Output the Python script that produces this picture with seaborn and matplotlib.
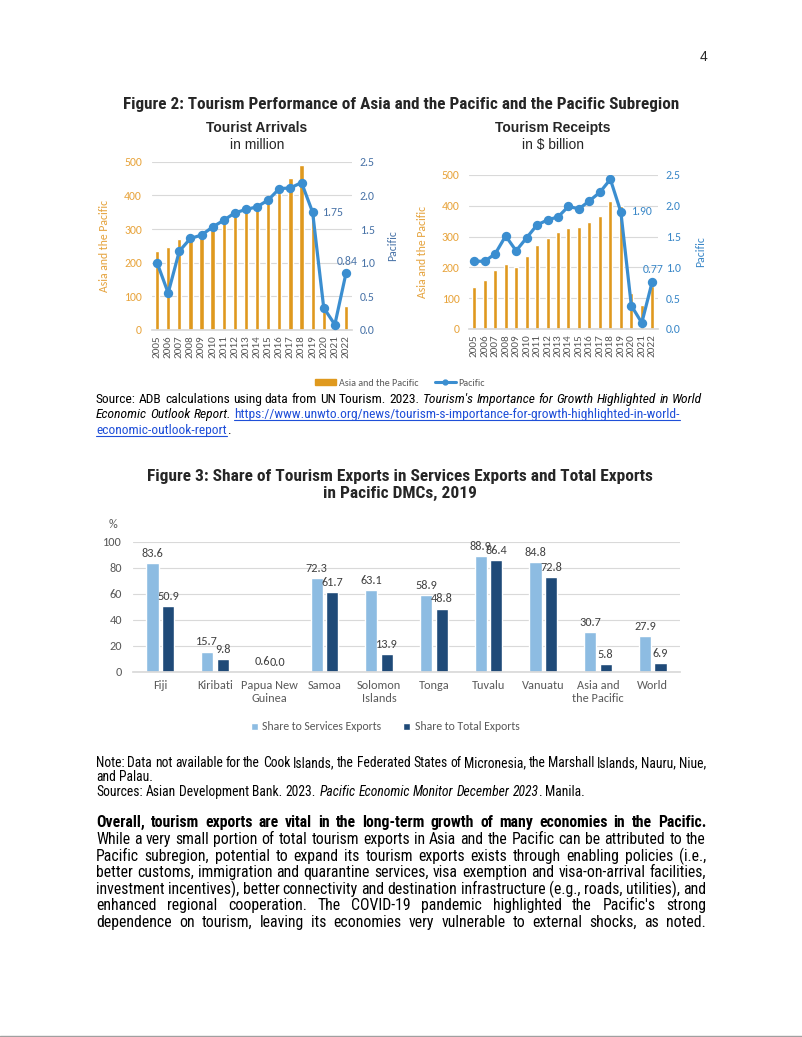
import matplotlib
matplotlib.use('Agg')
import numpy as np
import pandas as pd
import matplotlib.pyplot as plt
import seaborn as sns
from matplotlib import font_manager as fm
from matplotlib.lines import Line2D
from matplotlib.patches import Patch

# ---- data ----
years = [str(y) for y in range(2005, 2023)]
arrivals_asia_pacific = [235, 248, 270, 268, 275, 298, 318, 338, 350, 360, 380, 408, 452, 490, 360, 60, 20, 70]
arrivals_pacific = [1.00, 0.55, 1.17, 1.36, 1.41, 1.53, 1.63, 1.74, 1.79, 1.83, 1.93, 2.10, 2.11, 2.19, 1.75, 0.33, 0.08, 0.84]
receipts_asia_pacific = [137, 160, 190, 210, 200, 236, 272, 296, 316, 327, 330, 348, 367, 416, 400, 117, 77, 138]
receipts_pacific = [1.10, 1.10, 1.22, 1.51, 1.27, 1.48, 1.69, 1.77, 1.82, 1.99, 1.95, 2.08, 2.22, 2.43, 1.90, 0.38, 0.10, 0.77]
labelled_points = {'2019': 'right', '2022': 'above'}

economies = ['Fiji', 'Kiribati', 'Papua New\nGuinea', 'Samoa', 'Solomon\nIslands', 'Tonga',
             'Tuvalu', 'Vanuatu', 'Asia and\nthe Pacific', 'World']
services_share = [83.6, 15.7, 0.6, 72.3, 63.1, 58.9, 88.9, 84.8, 30.7, 27.9]
total_share = [50.9, 9.8, 0.0, 61.7, 13.9, 48.8, 86.4, 72.8, 5.8, 6.9]
series_names = ['Share to Services Exports', 'Share to Total Exports']

ORANGE = '#DF991E'
BLUE = '#3B8ED0'
GRID = '#D9D9D9'
GREY = '#595959'
LIGHT = '#8DBCE2'
NAVY = '#1F4A78'
LINKC = '#1F4FD8'

W, H = 802, 1037

names = {f.name for f in fm.fontManager.ttflist}


def pick(cands):
    for c in cands:
        if c in names:
            return c
    return cands[-1]


DOC = pick(['Liberation Sans Narrow', 'Arial Narrow', 'Roboto Condensed', 'Archivo Narrow', 'Liberation Sans'])
CHART = pick(['Carlito', 'Lato'])
ARIAL = pick(['Arimo', 'Liberation Sans'])

sns.set_theme(style='white')
plt.rcParams['font.family'] = [CHART, 'DejaVu Sans']

fig = plt.figure(figsize=(W / 100, H / 100), dpi=100)
fig.patch.set_facecolor('white')


def fx(x):
    return x / W


def fy(y):
    return 1 - y / H


def rect(l, t, r, b):
    return [l / W, 1 - b / H, (r - l) / W, (b - t) / H]


# ---- document text helpers ----
renderer = fig.canvas.get_renderer()


def measure(s, size, family, **kw):
    t = fig.text(0, 0, s, fontsize=size, family=family, **kw)
    w = t.get_window_extent(renderer).width
    t.remove()
    return w


def words_of(segs):
    words = [[]]
    for txt, kw in segs:
        parts = txt.split(' ')
        for i, p in enumerate(parts):
            if i > 0:
                words.append([])
            if p:
                words[-1].append((p, kw))
    return [w for w in words if w]


def natural_width(segs, size, family):
    words = words_of(segs)
    sp = measure('a a', size, family) - measure('aa', size, family)
    tot = sum(measure(p, size, family, **{k: v for k, v in kw.items() if k != 'link'})
              for w in words for p, kw in w)
    return tot + sp * (len(words) - 1)


def draw_line(segs, x0, y, size, family, width=None):
    words = words_of(segs)
    sp = measure('a a', size, family) - measure('aa', size, family)
    widths = [[measure(p, size, family, **{k: v for k, v in kw.items() if k != 'link'})
               for p, kw in w] for w in words]
    total = sum(sum(w) for w in widths)
    gap = sp if width is None or len(words) < 2 else (width - total) / (len(words) - 1)
    base = y + 0.3 * size * 100 / 72
    x = x0
    for w, ws in zip(words, widths):
        for (p, kw), pw in zip(w, ws):
            kw = dict(kw)
            link = kw.pop('link', False)
            fig.text(fx(x), fy(base), p, fontsize=size, family=family, va='baseline', ha='left',
                     color=kw.pop('color', 'black'), **kw)
            if link:
                fig.add_artist(Line2D([fx(x), fx(x + pw)], [fy(base + 1.5)] * 2,
                                      transform=fig.transFigure, color=LINKC, lw=0.8))
            x += pw
        x += gap


REG = {}
IT = {'style': 'italic'}
BOLD = {'weight': 'bold'}
LNK = {'color': LINKC, 'link': True}

# page number
fig.text(fx(703), fy(57), '4', fontsize=10, family=ARIAL, ha='center', va='center')

# figure titles, fitted to the page widths
t2 = 'Figure 2: Tourism Performance of Asia and the Pacific and the Pacific Subregion'
s2 = 11 * 552 / measure(t2, 11, DOC, weight='bold')
fig.text(fx(401), fy(104), t2, fontsize=s2, family=DOC, weight='bold', ha='center', va='center')
t3a = 'Figure 3: Share of Tourism Exports in Services Exports and Total Exports'
t3b = 'in Pacific DMCs, 2019'
s3 = 11 * 503 / measure(t3a, 11, DOC, weight='bold')
fig.text(fx(400), fy(476), t3a, fontsize=s3, family=DOC, weight='bold', ha='center', va='center')
fig.text(fx(400), fy(493), t3b, fontsize=s3, family=DOC, weight='bold', ha='center', va='center')


# ---- Figure 2 panels ----
def tourism_panel(box, bars, line, title, subtitle, tcx, right_col, lab_off):
    ax = fig.add_axes(rect(*box))
    sns.barplot(x=years, y=bars, color=ORANGE, saturation=1, width=0.38, ax=ax)
    ax.set_ylim(0, 500)
    ax.set_yticks(range(0, 501, 100))
    ax.yaxis.grid(True, color=GRID, lw=0.8)
    ax.set_axisbelow(True)
    for s in ax.spines.values():
        s.set_visible(False)
    ax.spines['bottom'].set_visible(True)
    ax.spines['bottom'].set_color(GRID)
    ax.tick_params(axis='y', length=0, pad=7, labelsize=8.5, labelcolor='#E8A53E')
    ax.set_ylabel('Asia and the Pacific', color='#E5A23B', fontsize=8.5)
    ax.yaxis.set_label_coords(lab_off[0], 0.5)

    ax2 = ax.twinx()
    sns.pointplot(x=years, y=line, color=BLUE, markersize=5, linewidth=2.3,
                  errorbar=None, ax=ax2)
    ax2.set_ylim(0, 2.5)
    ax2.set_yticks(np.arange(0, 2.51, 0.5))
    ax2.yaxis.set_major_formatter('{x:.1f}')
    for s in ax2.spines.values():
        s.set_visible(False)
    ax2.tick_params(axis='y', length=0, pad=6, labelsize=8.5, labelcolor=right_col)
    ax2.set_ylabel('Pacific', color=right_col, fontsize=8.5)
    ax2.yaxis.set_label_coords(lab_off[1], 0.5)
    ax2.grid(False)
    ax2.set_xlabel('')

    for yr, where in labelled_points.items():
        i = years.index(yr)
        if where == 'right':
            ax2.annotate(f'{line[i]:.2f}', (i, line[i]), xytext=(7, 0), textcoords='offset points',
                         ha='left', va='center', fontsize=8.5, color=right_col)
        else:
            ax2.annotate(f'{line[i]:.2f}', (i, line[i]), xytext=(1, 5), textcoords='offset points',
                         ha='center', va='bottom', fontsize=8.5, color=right_col)

    ax.set_xticks(range(len(years)))
    ax.set_xticklabels(years, rotation=90, fontsize=8, color=GREY)
    ax.tick_params(axis='x', length=0, pad=4)
    ax.set_xlabel('')
    ax.set_xlim(-0.5, len(years) - 0.5)

    fig.text(fx(tcx), fy(128), title, fontsize=10, family=ARIAL, weight='bold',
             ha='center', va='center')
    fig.text(fx(tcx), fy(145), subtitle, fontsize=10, family=ARIAL,
             ha='center', va='center')
    return ax


tourism_panel((151.5, 161.7, 351.5, 330), arrivals_asia_pacific, arrivals_pacific,
              'Tourist Arrivals', 'in million', 257, '#4A74A8', (-0.21, 1.18))
tourism_panel((469, 175, 657.5, 329), receipts_asia_pacific, receipts_pacific,
              'Tourism Receipts', 'in $ billion', 553, '#3B88C8', (-0.22, 1.2))

fig.legend(handles=[Patch(color=ORANGE, label='Asia and the Pacific'),
                    Line2D([], [], color=BLUE, lw=2.2, marker='o', ms=3.5, label='Pacific')],
           loc='center', bbox_to_anchor=(fx(400), fy(383)), ncol=2, frameon=False,
           fontsize=7.2, labelcolor=GREY, handlelength=2.1, handleheight=0.45,
           handletextpad=0.3, columnspacing=1.6)

# ---- Figure 3 ----
df = pd.DataFrame({
    'economy': economies * 2,
    'share': services_share + total_share,
    'series': [series_names[0]] * len(economies) + [series_names[1]] * len(economies),
})
ax3 = fig.add_axes(rect(133, 542, 680, 672))
sns.barplot(data=df, x='economy', y='share', hue='series', palette=[LIGHT, NAVY],
            saturation=1, width=0.57, gap=0.22, ax=ax3)
ax3.set_ylim(0, 100)
ax3.set_yticks(range(0, 101, 20))
ax3.yaxis.grid(True, color=GRID, lw=0.8)
ax3.set_axisbelow(True)
for s in ax3.spines.values():
    s.set_visible(False)
ax3.spines['bottom'].set_visible(True)
ax3.spines['bottom'].set_color(GRID)
ax3.tick_params(axis='y', length=0, pad=8, labelsize=8.8, labelcolor=GREY)
ax3.tick_params(axis='x', length=0, pad=6, labelsize=8.8, labelcolor=GREY)
ax3.set_xlabel('')
ax3.set_ylabel('')
for c in ax3.containers:
    ax3.bar_label(c, fmt='%.1f', padding=3, fontsize=8.8, color='#404040')
ax3.legend(loc='center', bbox_to_anchor=(fx(385), fy(727)), bbox_transform=fig.transFigure,
           ncol=2, frameon=False, fontsize=8.5, labelcolor=GREY, handlelength=0.6,
           handleheight=0.6, handletextpad=0.4, columnspacing=1.8)
fig.text(fx(113), fy(525), '%', fontsize=8.8, color=GREY, ha='center', va='center')

# ---- source and note text ----
src = [
    [('Source: ADB calculations using data from UN Tourism. 2023. ', REG),
     ("Tourism's Importance for Growth Highlighted in World", IT)],
    [('Economic Outlook Report.', IT), (' ', REG),
     ('https://www.unwto.org/news/tourism-s-importance-for-growth-highlighted-in-world-', LNK)],
    [('economic-outlook-report', LNK), ('.', REG)],
]
ssrc = 10 * 602 / natural_width(src[0], 10, DOC)
for segs, y in zip(src, [399, 414, 430]):
    draw_line(segs, 96, y, ssrc, DOC)

note = [
    ([('Note: Data not available for the Cook Islands, the Federated States of Micronesia, '
       'the Marshall Islands, Nauru, Niue,', REG)], True),
    ([('and Palau.', REG)], False),
    ([('Sources: Asian Development Bank. 2023. ', REG),
      ('Pacific Economic Monitor December 2023', IT), ('. Manila.', REG)], False),
]
snote = 10 * 486 / natural_width(note[2][0], 10, DOC)
for (segs, just), y in zip(note, [763, 777, 792]):
    draw_line(segs, 96, y, snote, DOC, width=610 if just else None)

para = [
    [('Overall, tourism exports are vital in the long-term growth of many economies in the Pacific.', BOLD)],
    [('While a very small portion of total tourism exports in Asia and the Pacific can be attributed to the', REG)],
    [('Pacific subregion, potential to expand its tourism exports exists through enabling policies (i.e.,', REG)],
    [('better customs, immigration and quarantine services, visa exemption and visa-on-arrival facilities,', REG)],
    [('investment incentives), better connectivity and destination infrastructure (e.g., roads, utilities), and', REG)],
    [("enhanced regional cooperation. The COVID-19 pandemic highlighted the Pacific's strong", REG)],
    [('dependence on tourism, leaving its economies very vulnerable to external shocks, as noted.', REG)],
]
ratios = [610 / natural_width(p, 11, DOC) for p in para]
spara = 11 * min(ratios)
for segs, y in zip(para, [822, 839, 856, 872, 889, 905, 922]):
    draw_line(segs, 96, y, spara, DOC, width=610)

fig.add_artist(Line2D([0, 1], [fy(1036)] * 2, transform=fig.transFigure, color='#A0A0A0', lw=1))

fig.savefig('out.png', dpi=100, facecolor='white')
